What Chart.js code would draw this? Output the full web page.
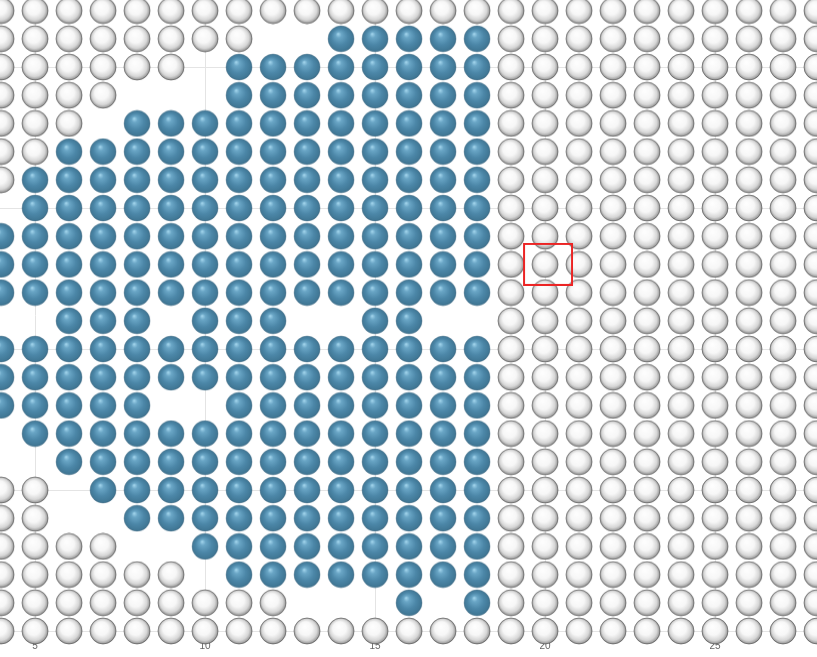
<!DOCTYPE html>
<html>
<head>
<meta charset="utf-8">
<script src="https://cdn.jsdelivr.net/npm/chart.js@4/dist/chart.umd.min.js"></script>
<style>
  html, body { margin: 0; padding: 0; background: #fff; }
  #wrap { width: 817px; height: 657px; }
</style>
</head>
<body>
<div id="wrap"><canvas id="grid" width="817" height="657"></canvas></div>
<script>
// column values (x) left to right, row values (y) top to bottom
const columns = [4, 5, 6, 7, 8, 9, 10, 11, 12, 13, 14, 15, 16, 17, 18, 19, 20, 21, 22, 23, 24, 25, 26, 27, 28];
const rows = [22, 21, 20, 19, 18, 17, 16, 15, 14, 13, 12, 11, 10, 9, 8, 7, 6, 5, 4, 3, 2, 1, 0];

// one string per row: b = blue cell, w = white cell, . = no cell
const cellRows = [
    'wwwwwwwwwwwwwwwwwwwwwwwww',
    'wwwwwwww..bbbbbwwwwwwwwww',
    'wwwwww.bbbbbbbbwwwwwwwwww',
    'wwww...bbbbbbbbwwwwwwwwww',
    'www.bbbbbbbbbbbwwwwwwwwww',
    'wwbbbbbbbbbbbbbwwwwwwwwww',
    'wbbbbbbbbbbbbbbwwwwwwwwww',
    '.bbbbbbbbbbbbbbwwwwwwwwww',
    'bbbbbbbbbbbbbbbwwwwwwwwww',
    'bbbbbbbbbbbbbbbwwwwwwwwww',
    'bbbbbbbbbbbbbbbwwwwwwwwww',
    '..bbb.bbb..bb..wwwwwwwwww',
    'bbbbbbbbbbbbbbbwwwwwwwwww',
    'bbbbbbbbbbbbbbbwwwwwwwwww',
    'bbbbb..bbbbbbbbwwwwwwwwww',
    '.bbbbbbbbbbbbbbwwwwwwwwww',
    '..bbbbbbbbbbbbbwwwwwwwwww',
    'ww.bbbbbbbbbbbbwwwwwwwwww',
    'ww..bbbbbbbbbbbwwwwwwwwww',
    'wwww..bbbbbbbbbwwwwwwwwww',
    'wwwwww.bbbbbbbbwwwwwwwwww',
    'wwwwwwwww...b.bwwwwwwwwww',
    'wwwwwwwwwwwwwwwwwwwwwwwww'
];

const xTickValues = [5, 10, 15, 20, 25];
const selectedCell = [20, 13];

const bluePoints = [];
const whitePoints = [];
cellRows.forEach((line, r) => {
    for (let c = 0; c < line.length; c++) {
        const p = { x: columns[c], y: rows[r] };
        if (line[c] === 'b') bluePoints.push(p);
        else if (line[c] === 'w') whitePoints.push(p);
    }
});

// little sphere images used as point styles
function makeBall(stops, rim) {
    const cv = document.createElement('canvas');
    cv.width = 28;
    cv.height = 28;
    const g = cv.getContext('2d');
    const grad = g.createRadialGradient(11, 9, 0, 14, 14, 13.5);
    stops.forEach(s => grad.addColorStop(s[0], s[1]));
    g.beginPath();
    g.arc(14, 14, 13, 0, Math.PI * 2);
    g.fillStyle = grad;
    g.fill();
    if (rim) {
        g.lineWidth = 1;
        g.strokeStyle = rim;
        g.stroke();
    }
    return cv;
}

const blueBall = makeBall([
    [0, '#a6d8ef'],
    [0.22, '#6aa6c6'],
    [0.6, '#4c87a8'],
    [0.9, '#417896'],
    [1, '#3a6a85']
], 'rgba(60,100,125,0.35)');

const whiteBall = makeBall([
    [0, '#ffffff'],
    [0.5, '#f7f7f7'],
    [0.78, '#d6d6d6'],
    [0.92, '#a4a4a4'],
    [1, '#6a6a6a']
], 'rgba(80,80,80,0.6)');

// red selection box, drawn a little right of the cell centre like the original
const marker = document.createElement('canvas');
marker.width = 56;
marker.height = 43;
const mctx = marker.getContext('2d');
mctx.strokeStyle = '#ec2424';
mctx.lineWidth = 2;
mctx.strokeRect(7, 1, 48, 41);

new Chart(document.getElementById('grid'), {
    type: 'scatter',
    data: {
        datasets: [
            {
                data: [{ x: selectedCell[0], y: selectedCell[1] }],
                pointStyle: marker,
                clip: false
            },
            {
                data: bluePoints,
                pointStyle: blueBall,
                clip: false
            },
            {
                data: whitePoints,
                pointStyle: whiteBall,
                clip: false
            }
        ]
    },
    options: {
        responsive: false,
        animation: false,
        devicePixelRatio: 1,
        events: [],
        layout: { padding: 0, autoPadding: false },
        plugins: {
            legend: { display: false },
            tooltip: { enabled: false }
        },
        scales: {
            x: {
                type: 'linear',
                min: 3.97,
                max: 28.0,
                afterFit: scale => {
                    scale.height = 26;
                    scale.paddingLeft = 0;
                    scale.paddingRight = 0;
                },
                afterBuildTicks: scale => {
                    scale.ticks = xTickValues.map(v => ({ value: v }));
                },
                grid: { color: '#e4e4e4', drawTicks: false },
                border: { color: '#e4e4e4' },
                ticks: {
                    padding: 9,
                    color: '#666',
                    font: { size: 10 }
                }
            },
            y: {
                type: 'linear',
                min: 0,
                max: 22.376,
                grid: { color: '#e4e4e4', drawTicks: false },
                border: { display: false },
                ticks: { display: false, stepSize: 5, includeBounds: false }
            }
        }
    }
});
</script>
</body>
</html>
